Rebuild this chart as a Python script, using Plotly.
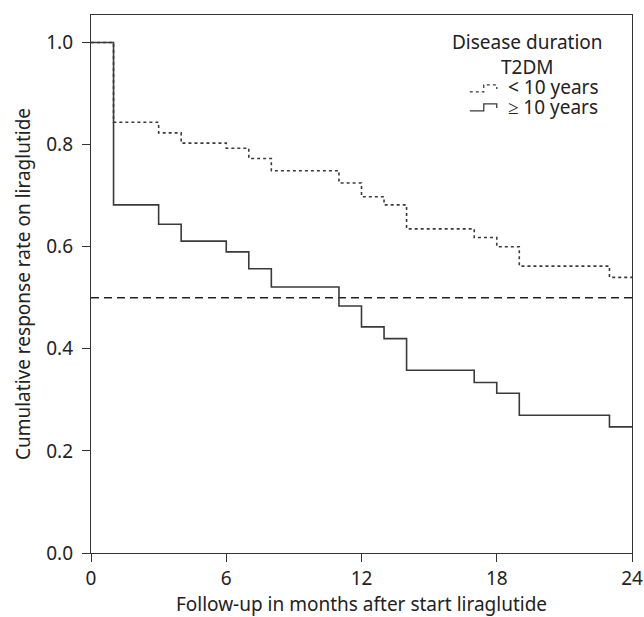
import plotly.graph_objects as go

# Data
months = [0, 1, 3, 4, 6, 7, 8, 11, 12, 13, 14, 17, 18, 19, 23, 24]
lt10_years = [1.0, 0.844, 0.823, 0.803, 0.793, 0.773, 0.749, 0.725, 0.698, 0.682,
              0.635, 0.618, 0.600, 0.562, 0.540, 0.540]
ge10_years = [1.0, 0.682, 0.644, 0.611, 0.590, 0.557, 0.521, 0.484, 0.443, 0.420,
              0.358, 0.334, 0.313, 0.270, 0.247, 0.247]
reference_level = 0.5
x_ticks = [0, 6, 12, 18, 24]
y_ticks = [0.0, 0.2, 0.4, 0.6, 0.8, 1.0]
legend_title = ["Disease duration", "T2DM"]
legend_labels = ["< 10 years", "≥ 10 years"]

FONT = "Noto Sans"
FS = 19
LINE_COL = "#3a3a3a"
TXT = "#222"

fig = go.Figure()
fig.add_trace(go.Scatter(x=[0, 24], y=[reference_level, reference_level], mode="lines",
                         line=dict(color="#222", width=1.4, dash="8px,5px"),
                         showlegend=False, hoverinfo="skip"))
fig.add_trace(go.Scatter(x=months, y=lt10_years, mode="lines", line_shape="hv",
                         line=dict(color=LINE_COL, width=1.6, dash="dot"),
                         name=legend_labels[0], showlegend=False))
fig.add_trace(go.Scatter(x=months, y=ge10_years, mode="lines", line_shape="hv",
                         line=dict(color=LINE_COL, width=1.6),
                         name=legend_labels[1], showlegend=False))

axis_common = dict(showline=True, linecolor="#333", linewidth=1.3, mirror=True,
                   ticks="outside", ticklen=8, tickwidth=1.2, tickcolor="#333",
                   showgrid=False, zeroline=False, automargin=False,
                   tickfont=dict(family=FONT, size=FS, color=TXT))

fig.update_xaxes(range=[0, 24], tickvals=x_ticks, ticktext=[str(v) for v in x_ticks],
                 title=dict(text="Follow-up in months after start liraglutide",
                            font=dict(family=FONT, size=FS, color=TXT), standoff=4),
                 **axis_common)
fig.update_yaxes(range=[0, 1.054], tickvals=y_ticks, ticktext=[f"{v:.1f}" for v in y_ticks],
                 title=dict(text="Cumulative response rate on liraglutide",
                            font=dict(family=FONT, size=FS, color=TXT), standoff=10),
                 ticklabelstandoff=5,
                 **axis_common)

W, H = 644, 617
ml, mr, mt, mb = 90.5, 11.5, 15, 63.7
pw, ph = W - ml - mr, H - mt - mb

def px(x):
    return (x - ml) / pw

def py(y):
    return 1 - (y - mt) / ph

fig.add_annotation(x=px(528), y=py(54.5), xref="paper", yref="paper",
                   text="<br>".join(legend_title), align="center",
                   showarrow=False, xanchor="center", yanchor="middle",
                   font=dict(family=FONT, size=FS, color=TXT))
fig.add_annotation(x=px(506), y=py(97), xref="paper", yref="paper",
                   text="<br>".join(f"<span style='font-size:{FS}px'>{t}</span>"
                                    for t in legend_labels),
                   align="left", showarrow=False, xanchor="left", yanchor="middle",
                   font=dict(family=FONT, size=15, color=TXT))

def step_path(y0):
    pts = [(470, y0 + 4), (484, y0 + 4), (484, y0 - 3), (497, y0 - 3), (497, y0 + 1)]
    return "M " + " L ".join(f"{px(a)},{py(b)}" for a, b in pts)

fig.add_shape(type="path", path=step_path(88), xref="paper", yref="paper",
              line=dict(color=LINE_COL, width=1.3, dash="dot"))
fig.add_shape(type="path", path=step_path(107), xref="paper", yref="paper",
              line=dict(color=LINE_COL, width=1.3))

fig.update_layout(width=W, height=H, autosize=False,
                  margin=dict(l=ml, r=mr, t=mt, b=mb, autoexpand=False),
                  plot_bgcolor="white", paper_bgcolor="white",
                  font=dict(family=FONT, size=FS, color=TXT))

# remove the default 8px page margin so the figure fills the 644x617 window exactly
fig.write_html("out.html", config={"displayModeBar": False},
               post_script="document.body.style.margin='0';")
